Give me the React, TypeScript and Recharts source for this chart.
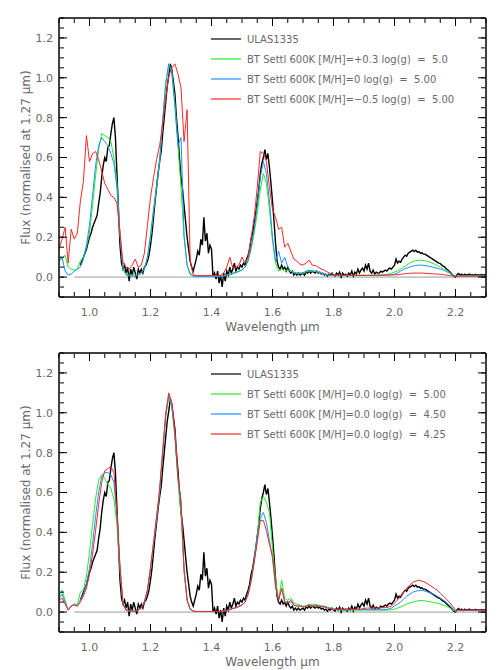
import React from 'react'
import { LineChart, Line, XAxis, YAxis, ReferenceLine, Legend } from 'recharts'

// model grid: 0.90 .. 2.30 um, step 0.01 (141 points)
const WAVE_START = 0.9
const WAVE_STEP = 0.01
// observed spectrum grid: 0.970 .. 2.300 um, step 0.005 (267 points)
const ULAS_START = 0.97
const ULAS_STEP = 0.005

const X_MAJOR = [1.0, 1.2, 1.4, 1.6, 1.8, 2.0, 2.2]
const X_MINOR = [
  0.9, 0.95, 1.0, 1.05, 1.1, 1.15, 1.2, 1.25, 1.3, 1.35, 1.4, 1.45, 1.5, 1.55, 1.6,
  1.65, 1.7, 1.75, 1.8, 1.85, 1.9, 1.95, 2.0, 2.05, 2.1, 2.15, 2.2, 2.25, 2.3,
]
const Y_MAJOR = [0, 0.2, 0.4, 0.6, 0.8, 1.0, 1.2]
const Y_MINOR = [
  -0.1, -0.05, 0, 0.05, 0.1, 0.15, 0.2, 0.25, 0.3, 0.35, 0.4, 0.45, 0.5, 0.55, 0.6,
  0.65, 0.7, 0.75, 0.8, 0.85, 0.9, 0.95, 1.0, 1.05, 1.1, 1.15, 1.2, 1.25, 1.3,
]

// ULAS1335 observed spectrum (same in both panels)
const ULAS1335 = [
  0.06, 0.08, 0.10, 0.12, 0.14, 0.17, 0.20, 0.22, 0.25, 0.27,
  0.29, 0.31, 0.37, 0.42, 0.50, 0.56, 0.60, 0.58, 0.65, 0.66,
  0.72, 0.77, 0.80, 0.70, 0.52, 0.34, 0.16, 0.07, 0.04, 0.06,
  0.02, 0.05, -0.02, 0.04, 0.01, 0.05, 0.02, -0.01, 0.04, 0.02,
  0.04, 0.02, 0.05, 0.06, 0.08, 0.11, 0.16, 0.22, 0.30, 0.38,
  0.45, 0.52, 0.58, 0.63, 0.72, 0.80, 0.88, 0.96, 1.01, 1.07,
  1.04, 0.98, 0.92, 0.80, 0.71, 0.60, 0.50, 0.44, 0.36, 0.28,
  0.20, 0.14, 0.08, 0.05, 0.03, 0.06, 0.09, 0.13, 0.11, 0.19,
  0.16, 0.30, 0.18, 0.22, 0.12, 0.16, 0.14, 0.00, 0.02, -0.01,
  0.03, -0.03, 0.01, -0.05, 0.02, -0.02, 0.03, 0.01, 0.05, 0.02,
  0.04, 0.07, 0.03, 0.05, 0.04, 0.06, 0.05, 0.07, 0.06, 0.09,
  0.11, 0.14, 0.19, 0.22, 0.27, 0.32, 0.38, 0.44, 0.52, 0.57,
  0.60, 0.64, 0.59, 0.62, 0.55, 0.47, 0.38, 0.28, 0.17, 0.08,
  0.05, 0.04, 0.06, 0.04, 0.05, 0.03, 0.05, 0.03, 0.02, 0.03,
  0.01, 0.02, 0.01, 0.02, 0.01, 0.015, 0.02, 0.01, 0.025, 0.02,
  0.03, 0.02, 0.03, 0.025, 0.02, 0.03, 0.02, 0.025, 0.015, 0.02,
  0.01, 0.015, 0.005, 0.015, 0.01, 0.02, 0.01, 0.005, 0.02, 0.01,
  0.025, 0.0, 0.02, 0.01, 0.015, 0.005, 0.02, 0.01, 0.03, 0.005,
  0.025, 0.015, 0.04, 0.02, 0.035, 0.045, 0.03, 0.06, 0.04, 0.07,
  0.03, 0.02, 0.035, 0.015, 0.025, 0.02, 0.02, 0.03, 0.025, 0.03,
  0.035, 0.03, 0.04, 0.045, 0.04, 0.05, 0.06, 0.09, 0.07, 0.08,
  0.075, 0.09, 0.10, 0.11, 0.105, 0.12, 0.125, 0.13, 0.135, 0.128,
  0.135, 0.125, 0.128, 0.12, 0.122, 0.115, 0.115, 0.11, 0.105, 0.10,
  0.095, 0.09, 0.085, 0.08, 0.075, 0.07, 0.068, 0.06, 0.055, 0.05,
  0.042, 0.035, 0.028, 0.02, 0.012, 0.005, 0.0, 0.012, 0.018, 0.01,
  0.015, 0.008, 0.014, 0.012, 0.01, 0.015, 0.01, 0.012, 0.008, 0.014,
  0.01, 0.012, 0.009, 0.013, 0.01, 0.012, 0.01,
]

// top panel: metallicity series
const SETTL_MH_P03 = [
  0.10, 0.09, 0.11, 0.05, 0.04, 0.035, 0.04, 0.08, 0.10, 0.15,
  0.22, 0.36, 0.51, 0.64, 0.72, 0.71, 0.70, 0.68, 0.60, 0.47,
  0.22, 0.04, 0.015, 0.01, 0.01, 0.01, 0.01, 0.02, 0.04, 0.10,
  0.20, 0.33, 0.45, 0.58, 0.78, 0.98, 1.07, 1.03, 0.87, 0.66,
  0.45, 0.20, 0.06, 0.015, 0.005, 0.003, 0.003, 0.003, 0.003, 0.003,
  0.003, 0.003, 0.003, 0.003, 0.005, 0.01, 0.015, 0.02, 0.025, 0.03,
  0.035, 0.05, 0.08, 0.14, 0.22, 0.32, 0.44, 0.52, 0.47, 0.34,
  0.18, 0.07, 0.03, 0.04, 0.03, 0.035, 0.03, 0.025, 0.02, 0.02,
  0.02, 0.025, 0.03, 0.03, 0.028, 0.025, 0.02, 0.015, 0.01, 0.01,
  0.008, 0.008, 0.01, 0.008, 0.01, 0.009, 0.01, 0.008, 0.01, 0.01,
  0.01, 0.009, 0.01, 0.01, 0.011, 0.01, 0.011, 0.012, 0.015, 0.02,
  0.025, 0.03, 0.04, 0.05, 0.06, 0.07, 0.078, 0.082, 0.085, 0.084,
  0.082, 0.078, 0.072, 0.066, 0.058, 0.05, 0.042, 0.033, 0.024, 0.012,
  0.003, 0.005, 0.006, 0.005, 0.006, 0.005, 0.005, 0.006, 0.005, 0.005, 0.005,
]
const SETTL_MH_0 = [
  0.08, 0.10, 0.03, 0.01, 0.015, 0.03, 0.04, 0.05, 0.09, 0.16,
  0.26, 0.41, 0.56, 0.66, 0.70, 0.68, 0.66, 0.62, 0.57, 0.45,
  0.21, 0.04, 0.01, 0.005, 0.005, 0.005, 0.01, 0.02, 0.04, 0.10,
  0.21, 0.34, 0.46, 0.59, 0.79, 0.97, 1.07, 1.02, 0.86, 0.66,
  0.70, 0.21, 0.06, 0.015, 0.005, 0.003, 0.003, 0.003, 0.003, 0.003,
  0.003, 0.003, 0.003, 0.003, 0.005, 0.008, 0.012, 0.018, 0.022, 0.028,
  0.035, 0.05, 0.085, 0.15, 0.24, 0.36, 0.50, 0.58, 0.52, 0.38,
  0.20, 0.08, 0.13, 0.07, 0.10, 0.05, 0.03, 0.02, 0.02, 0.02,
  0.02, 0.03, 0.035, 0.03, 0.03, 0.025, 0.02, 0.015, 0.01, 0.008,
  0.008, 0.008, 0.007, 0.008, 0.008, 0.007, 0.008, 0.008, 0.007, 0.008,
  0.008, 0.008, 0.008, 0.009, 0.008, 0.009, 0.01, 0.01, 0.01, 0.012,
  0.015, 0.02, 0.03, 0.038, 0.045, 0.05, 0.055, 0.058, 0.06, 0.06,
  0.058, 0.055, 0.052, 0.048, 0.044, 0.04, 0.035, 0.028, 0.02, 0.01,
  0.003, 0.005, 0.005, 0.005, 0.005, 0.005, 0.005, 0.005, 0.005, 0.005, 0.005,
]
const SETTL_MH_M05 = [
  0.14, 0.19, 0.25, 0.07, 0.24, 0.19, 0.22, 0.38, 0.48, 0.71,
  0.58, 0.62, 0.63, 0.59, 0.53, 0.47, 0.44, 0.41, 0.40, 0.37,
  0.22, 0.07, 0.05, 0.04, 0.06, 0.09, 0.05, 0.06, 0.12, 0.26,
  0.40, 0.50, 0.59, 0.66, 0.77, 0.90, 1.01, 1.05, 1.07, 1.02,
  0.95, 0.68, 0.84, 0.08, 0.01, 0.008, 0.008, 0.008, 0.008, 0.008,
  0.008, 0.008, 0.008, 0.008, 0.02, 0.05, 0.10, 0.045, 0.05, 0.06,
  0.10, 0.07, 0.10, 0.20, 0.30, 0.45, 0.63, 0.62, 0.58, 0.45,
  0.34, 0.30, 0.24, 0.25, 0.15, 0.17, 0.13, 0.09, 0.08, 0.065,
  0.06, 0.07, 0.085, 0.06, 0.058, 0.05, 0.04, 0.035, 0.025, 0.018,
  0.012, 0.01, 0.009, 0.008, 0.008, 0.008, 0.008, 0.008, 0.008, 0.008,
  0.008, 0.008, 0.008, 0.008, 0.008, 0.009, 0.009, 0.01, 0.01, 0.01,
  0.011, 0.012, 0.014, 0.016, 0.018, 0.019, 0.02, 0.02, 0.02, 0.02,
  0.019, 0.018, 0.017, 0.016, 0.015, 0.014, 0.012, 0.01, 0.008, 0.006,
  0.004, 0.005, 0.005, 0.005, 0.005, 0.005, 0.005, 0.005, 0.005, 0.005, 0.005,
]

// bottom panel: gravity series
const SETTL_G500 = [
  0.08, 0.11, 0.06, 0.01, 0.03, 0.04, 0.035, 0.10, 0.11, 0.18,
  0.30, 0.44, 0.57, 0.66, 0.69, 0.67, 0.64, 0.62, 0.57, 0.44,
  0.21, 0.04, 0.01, 0.005, 0.005, 0.005, 0.01, 0.02, 0.05, 0.11,
  0.22, 0.35, 0.47, 0.60, 0.80, 0.98, 1.08, 1.03, 0.88, 0.66,
  0.50, 0.20, 0.06, 0.015, 0.005, 0.003, 0.003, 0.003, 0.003, 0.003,
  0.003, 0.003, 0.003, 0.003, 0.005, 0.008, 0.012, 0.017, 0.022, 0.028,
  0.035, 0.05, 0.085, 0.15, 0.25, 0.38, 0.55, 0.58, 0.55, 0.50,
  0.32, 0.16, 0.06, 0.16, 0.07, 0.06, 0.07, 0.045, 0.04, 0.035,
  0.03, 0.03, 0.04, 0.035, 0.04, 0.035, 0.03, 0.03, 0.025, 0.02,
  0.015, 0.012, 0.01, 0.01, 0.01, 0.01, 0.01, 0.01, 0.01, 0.01,
  0.01, 0.01, 0.01, 0.01, 0.01, 0.01, 0.01, 0.01, 0.01, 0.012,
  0.015, 0.02, 0.025, 0.032, 0.04, 0.046, 0.05, 0.054, 0.057, 0.058,
  0.056, 0.054, 0.051, 0.048, 0.045, 0.04, 0.035, 0.03, 0.022, 0.012,
  0.004, 0.008, 0.008, 0.008, 0.008, 0.008, 0.008, 0.008, 0.008, 0.008, 0.008,
]
const SETTL_G450 = [
  0.07, 0.09, 0.05, 0.01, 0.03, 0.04, 0.03, 0.06, 0.09, 0.14,
  0.22, 0.34, 0.48, 0.60, 0.68, 0.70, 0.70, 0.69, 0.65, 0.48,
  0.22, 0.04, 0.01, 0.005, 0.005, 0.005, 0.01, 0.02, 0.05, 0.11,
  0.22, 0.34, 0.47, 0.61, 0.80, 0.99, 1.09, 1.04, 0.89, 0.67,
  0.55, 0.21, 0.06, 0.015, 0.005, 0.003, 0.003, 0.003, 0.003, 0.003,
  0.003, 0.003, 0.003, 0.003, 0.005, 0.008, 0.012, 0.018, 0.022, 0.028,
  0.036, 0.05, 0.09, 0.16, 0.26, 0.38, 0.47, 0.50, 0.45, 0.36,
  0.27, 0.13, 0.06, 0.12, 0.05, 0.05, 0.05, 0.035, 0.03, 0.03,
  0.025, 0.03, 0.035, 0.03, 0.035, 0.03, 0.03, 0.028, 0.022, 0.018,
  0.014, 0.012, 0.012, 0.012, 0.012, 0.012, 0.012, 0.012, 0.012, 0.012,
  0.012, 0.012, 0.012, 0.012, 0.012, 0.012, 0.012, 0.012, 0.015, 0.02,
  0.03, 0.04, 0.05, 0.065, 0.08, 0.09, 0.10, 0.105, 0.108, 0.11,
  0.105, 0.10, 0.095, 0.088, 0.08, 0.07, 0.06, 0.048, 0.035, 0.02,
  0.005, 0.008, 0.008, 0.008, 0.008, 0.008, 0.008, 0.008, 0.008, 0.008, 0.008,
]
const SETTL_G425 = [
  0.06, 0.07, 0.04, 0.01, 0.03, 0.035, 0.03, 0.05, 0.08, 0.12,
  0.19, 0.29, 0.41, 0.54, 0.65, 0.71, 0.72, 0.73, 0.70, 0.50,
  0.23, 0.04, 0.01, 0.005, 0.005, 0.005, 0.01, 0.02, 0.05, 0.11,
  0.22, 0.35, 0.48, 0.62, 0.81, 1.00, 1.10, 1.05, 0.90, 0.68,
  0.56, 0.22, 0.06, 0.015, 0.005, 0.003, 0.003, 0.003, 0.003, 0.003,
  0.003, 0.003, 0.003, 0.003, 0.005, 0.008, 0.012, 0.018, 0.022, 0.028,
  0.036, 0.05, 0.09, 0.16, 0.25, 0.35, 0.46, 0.46, 0.41, 0.34,
  0.28, 0.13, 0.06, 0.12, 0.05, 0.045, 0.06, 0.035, 0.03, 0.03,
  0.025, 0.03, 0.035, 0.03, 0.03, 0.03, 0.028, 0.025, 0.02, 0.018,
  0.015, 0.015, 0.015, 0.015, 0.015, 0.015, 0.015, 0.015, 0.015, 0.015,
  0.018, 0.02, 0.02, 0.02, 0.02, 0.02, 0.022, 0.022, 0.025, 0.03,
  0.045, 0.06, 0.08, 0.10, 0.12, 0.135, 0.15, 0.155, 0.16, 0.155,
  0.15, 0.14, 0.13, 0.12, 0.11, 0.095, 0.08, 0.065, 0.05, 0.03,
  0.008, 0.01, 0.01, 0.01, 0.01, 0.01, 0.01, 0.01, 0.01, 0.01, 0.01,
]

const TOP_NAMES = [
  'ULAS1335',
  'BT Settl 600K [M/H]=+0.3 log(g)  =  5.0',
  'BT Settl 600K [M/H]=0 log(g)  =  5.00',
  'BT Settl 600K [M/H]=\u22120.5 log(g)  =  5.00',
]
const BOTTOM_NAMES = [
  'ULAS1335',
  'BT Settl 600K [M/H]=0.0 log(g)  =  5.00',
  'BT Settl 600K [M/H]=0.0 log(g)  =  4.50',
  'BT Settl 600K [M/H]=0.0 log(g)  =  4.25',
]
const COLORS = ['#000000', '#22ee22', '#1e90ff', '#ff2626']

const FONT = '"DejaVu Sans", sans-serif'
const TEXT_GREY = '#6a6a6a'

const toModel = (vals: number[]) =>
  vals.map((y, i) => ({ x: +(WAVE_START + i * WAVE_STEP).toFixed(3), y }))
const toUlas = (vals: number[]) =>
  vals.map((y, i) => ({ x: +(ULAS_START + i * ULAS_STEP).toFixed(3), y }))

// tick-only axes: no label, but keep the tick line
const NoLabel = () => <g />

const X_DOMAIN: [number, number] = [0.9, 2.3]
const Y_DOMAIN: [number, number] = [-0.1, 1.3]

function SpectrumPanel({ models, names }: { models: number[][]; names: string[] }) {
  const ulas = toUlas(ULAS1335)

  // legend drawn from our own names/colours so the order stays as in the figure
  const renderLegend = () => (
    <div style={{ fontFamily: FONT, fontSize: 10, color: TEXT_GREY }}>
      {names.map((n, i) => (
        <div key={n} style={{ display: 'flex', alignItems: 'center', height: 20, whiteSpace: 'pre' }}>
          <svg width={36} height={4} style={{ display: 'block' }}>
            <line x1={0} y1={2} x2={30} y2={2} stroke={COLORS[i]} strokeWidth={1.2} />
          </svg>
          <span>{n}</span>
        </div>
      ))}
    </div>
  )

  const tickStyle = { fill: TEXT_GREY, fontSize: 11, fontFamily: FONT }
  const fmt = (v: number) => v.toFixed(1)

  // inward ticks: mirrored axes with a positive tick size
  const xTicks = (id: string, orientation: 'top' | 'bottom', ticks: number[], size: number) => (
    <XAxis
      xAxisId={id} orientation={orientation} mirror type="number" dataKey="x"
      domain={X_DOMAIN} allowDataOverflow ticks={ticks} interval={0} height={1}
      tickSize={size} tick={NoLabel} axisLine={false} tickLine={{ stroke: '#000', strokeWidth: 1 }}
    />
  )
  const yTicks = (id: string, orientation: 'left' | 'right', ticks: number[], size: number) => (
    <YAxis
      yAxisId={id} orientation={orientation} mirror type="number"
      domain={Y_DOMAIN} allowDataOverflow ticks={ticks} interval={0} width={1}
      tickSize={size} tick={NoLabel} axisLine={false} tickLine={{ stroke: '#000', strokeWidth: 1 }}
    />
  )

  return (
    <LineChart width={503} height={335} margin={{ top: 17, right: 16, bottom: 37, left: 58 }}>
      {/* labelled axes that also draw the frame */}
      <XAxis
        type="number" dataKey="x" domain={X_DOMAIN} allowDataOverflow
        ticks={X_MAJOR} interval={0} height={1} tickSize={0} tickMargin={11}
        tick={tickStyle} tickFormatter={fmt} tickLine={false}
        axisLine={{ stroke: '#000', strokeWidth: 1.5 }}
        label={{ value: 'Wavelength \u03bcm', position: 'bottom', offset: 24, fill: TEXT_GREY, fontSize: 12, fontFamily: FONT }}
      />
      <XAxis
        xAxisId="top" orientation="top" type="number" dataKey="x" domain={X_DOMAIN} allowDataOverflow
        ticks={X_MAJOR} interval={0} height={1} tickSize={0} tick={NoLabel} tickLine={false}
        axisLine={{ stroke: '#000', strokeWidth: 1.5 }}
      />
      <YAxis
        type="number" domain={Y_DOMAIN} allowDataOverflow
        ticks={Y_MAJOR} interval={0} width={1} tickSize={0} tickMargin={6}
        tick={tickStyle} tickFormatter={fmt} tickLine={false}
        axisLine={{ stroke: '#000', strokeWidth: 1.5 }}
        label={{
          value: 'Flux (normalised at 1.27 \u03bcm)', angle: -90, position: 'left', offset: 32,
          fill: TEXT_GREY, fontSize: 12, fontFamily: FONT, style: { textAnchor: 'middle' },
        }}
      />
      <YAxis
        yAxisId="right" orientation="right" type="number" domain={Y_DOMAIN} allowDataOverflow
        ticks={Y_MAJOR} interval={0} width={1} tickSize={0} tick={NoLabel} tickLine={false}
        axisLine={{ stroke: '#000', strokeWidth: 1.5 }}
      />

      {/* inward major / minor tick marks on all four sides */}
      {xTicks('bMaj', 'bottom', X_MAJOR, 8)}
      {xTicks('bMin', 'bottom', X_MINOR, 4)}
      {xTicks('tMaj', 'top', X_MAJOR, 8)}
      {xTicks('tMin', 'top', X_MINOR, 4)}
      {yTicks('lMaj', 'left', Y_MAJOR, 8)}
      {yTicks('lMin', 'left', Y_MINOR, 4)}
      {yTicks('rMaj', 'right', Y_MAJOR, 8)}
      {yTicks('rMin', 'right', Y_MINOR, 4)}

      <ReferenceLine segment={[{ x: 0.95, y: 0 }, { x: 2.3, y: 0 }]} stroke="#9a9a9a" strokeWidth={1} />

      <Line data={ulas} dataKey="y" name={names[0]} stroke={COLORS[0]} strokeWidth={1.4} dot={false} isAnimationActive={false} />
      {models.map((m, i) => (
        <Line
          key={names[i + 1]}
          data={toModel(m)}
          dataKey="y"
          name={names[i + 1]}
          stroke={COLORS[i + 1]}
          strokeWidth={1}
          dot={false}
          isAnimationActive={false}
        />
      ))}

      <Legend
        layout="horizontal" verticalAlign="middle" align="center"
        wrapperStyle={{ left: 211, top: 29, width: 280 }}
        content={renderLegend}
      />
    </LineChart>
  )
}

export default function App() {
  return (
    <div style={{ position: 'absolute', left: 0, top: 0, width: 503, height: 670, background: '#fff', fontFamily: FONT }}>
      <SpectrumPanel models={[SETTL_MH_P03, SETTL_MH_0, SETTL_MH_M05]} names={TOP_NAMES} />
      <SpectrumPanel models={[SETTL_G500, SETTL_G450, SETTL_G425]} names={BOTTOM_NAMES} />
    </div>
  )
}
